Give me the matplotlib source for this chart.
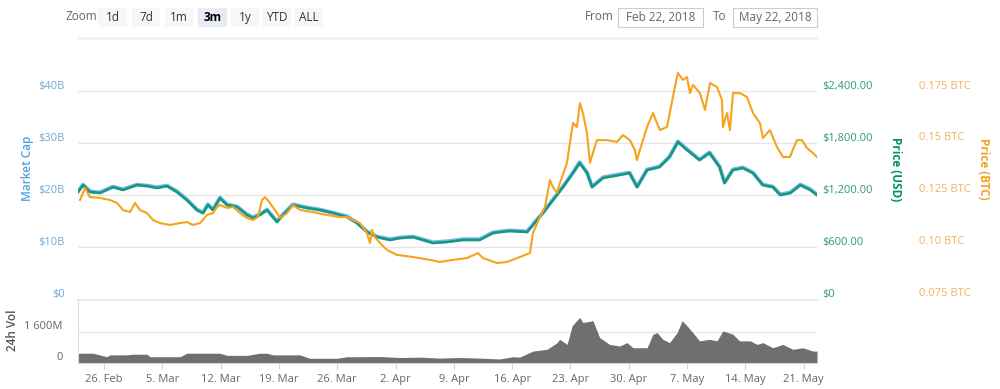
import matplotlib
matplotlib.use("Agg")
import matplotlib.pyplot as plt
import matplotlib.dates as mdates
from matplotlib.patches import FancyBboxPatch, Rectangle
from matplotlib.lines import Line2D
import pandas as pd

plt.rcParams['font.family'] = ['Open Sans', 'DejaVu Sans']

# ---------------- data ----------------
START = "2018-02-22"
# days after 2018-02-22 00:00
usd_day = [0.88, 1.48, 2.32, 3.52, 5.08, 6.28, 7.96, 9.16, 10.36, 11.56, 12.76, 13.96,
           15.16, 15.88, 16.48, 17.08, 17.93, 18.77, 19.97, 21.17, 21.89, 22.73, 23.57,
           24.77, 25.49, 26.69, 28.37, 29.93, 31.49, 33.17, 34.37, 35.57, 36.77, 38.33,
           39.53, 41.09, 43.5, 45.2, 47.1, 49.1, 50.7, 52.7, 54.8, 56.0, 56.7, 57.9,
           59.1, 60.3, 61.1, 62.0, 62.6, 63.9, 65.9, 67.1, 68.0, 69.2, 70.7, 71.9, 72.9,
           74.0, 75.5, 76.7, 77.9, 78.5, 79.5, 80.7, 81.9, 83.1, 84.3, 85.2, 86.4, 87.6,
           88.8, 89.6]
price_usd = [1235, 1315, 1235, 1223, 1292, 1258, 1315, 1304, 1281, 1304, 1235, 1142,
             1027, 992, 1085, 1027, 1165, 1085, 1062, 969, 935, 969, 1027,
             888, 969, 1085, 1050, 1027, 992, 946, 877, 773, 715, 681,
             704, 715, 646, 658, 681, 681, 762, 785, 773, 912, 992, 1142,
             1292, 1454, 1569, 1454, 1292, 1396, 1431, 1454, 1292, 1488, 1523, 1638, 1811,
             1719, 1604, 1685, 1523, 1338, 1488, 1512, 1454, 1315, 1292, 1200, 1223, 1315,
             1258, 1200]
market_cap_b = [20.7, 22.0, 20.7, 20.5, 21.6, 21.1, 22.0, 21.8, 21.5, 21.8, 20.7, 19.1,
                17.2, 16.6, 18.2, 17.2, 19.5, 18.2, 17.8, 16.3, 15.7, 16.3, 17.2,
                14.9, 16.3, 18.2, 17.6, 17.2, 16.6, 15.9, 14.7, 13.0, 12.0, 11.5,
                11.8, 12.0, 10.9, 11.1, 11.5, 11.5, 12.8, 13.2, 13.0, 15.3, 16.6, 19.1,
                21.6, 24.3, 26.3, 24.3, 21.6, 23.4, 24.0, 24.3, 21.6, 24.9, 25.5, 27.4, 30.3,
                28.8, 26.8, 28.2, 25.5, 22.4, 24.9, 25.3, 24.3, 22.0, 21.6, 20.1, 20.5, 22.0,
                21.1, 20.1]

btc_day = [1.12, 1.72, 2.32, 3.52, 4.72, 5.56, 6.28, 7.12, 7.72, 8.32, 9.16, 9.88, 10.72,
           11.92, 13.12, 13.96, 14.68, 15.52, 15.88, 16.36, 17.08, 17.56, 17.93, 18.77,
           19.49, 20.33, 21.17, 21.89, 22.49, 22.97, 23.33, 23.93, 24.77, 25.13, 25.97,
           26.69, 27.53, 29.09, 30.77, 32.33, 33.17, 33.89, 34.73, 35.57, 35.93, 36.17,
           36.53, 37.13, 37.97, 39.17, 41.09, 43.13, 44.33, 45.90, 47.58, 48.90, 49.50,
           51.18, 52.38, 53.94, 55.14, 55.50, 56.34, 56.94, 57.54, 57.90, 58.38, 58.74,
           59.58, 60.30, 60.78, 61.14, 61.50, 61.98, 62.34, 62.70, 63.18, 64.38, 65.58,
           66.30, 67.14, 67.74, 67.98, 68.34, 69.19, 69.91, 70.39, 70.75, 71.59, 72.30,
           72.90, 73.50, 73.99, 74.35, 74.71, 75.55, 76.15, 76.75, 77.59, 78.19, 78.31,
           78.79, 79.15, 79.51, 80.35, 81.19, 81.91, 82.75, 83.11, 83.95, 84.79, 85.51,
           86.35, 87.19, 87.79, 88.39, 89.11, 89.59]
price_btc = [0.1226, 0.1284, 0.1240, 0.1236, 0.1226, 0.1212, 0.1178, 0.1168, 0.1212, 0.1178,
             0.1163, 0.1130, 0.1115, 0.1106, 0.1115, 0.1120, 0.1106, 0.1115, 0.1130, 0.1154,
             0.1163, 0.1192, 0.1202, 0.1188, 0.1192, 0.1163, 0.1139, 0.1130, 0.1144, 0.1226,
             0.1240, 0.1212, 0.1163, 0.1139, 0.1163, 0.1202, 0.1178, 0.1168, 0.1154, 0.1144,
             0.1144, 0.1130, 0.1115, 0.1067, 0.1019, 0.1082, 0.1048, 0.1019, 0.0986, 0.0962,
             0.0952, 0.0938, 0.0928, 0.0938, 0.0947, 0.0971, 0.0947, 0.0923, 0.0928, 0.0952,
             0.0971, 0.1067, 0.1144, 0.1192, 0.1322, 0.1288, 0.1260, 0.1308, 0.1404, 0.1596,
             0.1577, 0.1692, 0.1644, 0.1548, 0.1404, 0.1452, 0.1514, 0.1514, 0.1505, 0.1538,
             0.1514, 0.1466, 0.1418, 0.1466, 0.1577, 0.1644, 0.1596, 0.1562, 0.1577, 0.1721,
             0.1837, 0.1803, 0.1817, 0.1740, 0.1779, 0.1740, 0.1659, 0.1788, 0.1769, 0.1707,
             0.1577, 0.1644, 0.1562, 0.1740, 0.1740, 0.1721, 0.1644, 0.1596, 0.1524, 0.1562,
             0.1481, 0.1433, 0.1433, 0.1514, 0.1514, 0.1476, 0.1452, 0.1433]

vol_day = [0.88, 1.12, 2.68, 4.36, 4.72, 6.76, 7.48, 9.16, 9.52, 13.12, 13.96, 16.36, 17.93,
           18.77, 21.17, 22.73, 23.57, 24.29, 27.53, 28.73, 31.97, 33.17, 34.73, 37.1, 39.5,
           41.9, 44.3, 46.7, 49.1, 51.5, 53.1, 53.9, 55.5, 57.2, 58.4, 58.7, 59.6, 60.2,
           61.1, 61.5, 62.7, 63.5, 64.7, 65.9, 66.8, 67.5, 69.2, 69.9, 70.4, 71.1, 71.9,
           72.8, 73.4, 74.0, 74.7, 75.5, 76.7, 77.6, 78.3, 79.5, 80.3, 81.6, 82.4, 83.1,
           84.3, 85.5, 86.7, 87.9, 89.1, 89.6]
volume_m = [500, 500, 500, 320, 415, 415, 450, 450, 320, 320, 500, 500, 500,
            390, 390, 500, 500, 415, 415, 240, 240, 320, 320, 330, 280,
            300, 250, 280, 250, 205, 320, 300, 610, 700, 1040, 1210, 950, 1900,
            2330, 2070, 2160, 1300, 950, 870, 1040, 780, 780, 1470, 1550, 1210, 1040,
            1550, 2160, 1900, 1550, 1130, 1210, 1130, 1640, 1470, 1130, 1130, 950, 1040,
            780, 950, 700, 780, 610, 610]

x_tick_dates = ["2018-02-26", "2018-03-05", "2018-03-12", "2018-03-19", "2018-03-26",
                "2018-04-02", "2018-04-09", "2018-04-16", "2018-04-23", "2018-04-30",
                "2018-05-07", "2018-05-14", "2018-05-21"]
x_tick_labels = ["26. Feb", "5. Mar", "12. Mar", "19. Mar", "26. Mar", "2. Apr", "9. Apr",
                 "16. Apr", "23. Apr", "30. Apr", "7. May", "14. May", "21. May"]
cap_ticks = [0, 10, 20, 30, 40]
cap_labels = ["$0", "$10B", "$20B", "$30B", "$40B"]
usd_ticks = [0, 600, 1200, 1800, 2400]
usd_labels = ["$0", "$600.00", "$1,200.00", "$1,800.00", "$2,400.00"]
btc_ticks = [0.075, 0.10, 0.125, 0.15, 0.175]
btc_labels = ["0.075 BTC", "0.10 BTC", "0.125 BTC", "0.15 BTC", "0.175 BTC"]
vol_ticks = [0, 1600]
vol_labels = ["0", "1 600M"]
zoom_buttons = ["1d", "7d", "1m", "3m", "1y", "YTD", "ALL"]
selected_button = "3m"
date_from = "Feb 22, 2018"
date_to = "May 22, 2018"

# ---------------- styling ----------------
C_CAP = "#7cb5ec"
C_CAP_LBL = "#6fa9d6"
C_USD = "#119b7c"
C_USD_LBL = "#2f9880"
C_BTC = "#f7a21b"
C_BTC_LBL = "#f0b35a"
C_GRID = "#e6e6e6"
C_VOL = "#6f6f6f"

W, H = 1000, 389
fig = plt.figure(figsize=(W / 100, H / 100), dpi=100)
fig.patch.set_facecolor("white")


def fx(px):
    return px / W


def fy(py):
    return 1 - py / H


L, R = 78, 817
MT, MB = 65, 299
VT, VB = 300, 363

start = pd.Timestamp(START)
def to_dates(days):
    return start + pd.to_timedelta(days, unit="D")

xlo = start + pd.Timedelta(days=0.88)
xhi = start + pd.Timedelta(days=89.6)

ax = fig.add_axes([fx(L), fy(MB), fx(R - L), (MB - MT) / H])
ax2 = ax.twinx()
ax3 = ax.twinx()
axv = fig.add_axes([fx(L), fy(VB), fx(R - L), (VB - VT) / H])

for a in (ax, ax2, ax3):
    a.set_xlim(xlo, xhi)
    for s in a.spines.values():
        s.set_visible(False)
    a.set_xticks([])
    a.set_yticks([])
    a.patch.set_visible(False)

ax.set_ylim(0, 45)
ax2.set_ylim(0, 2700)
ax3.set_ylim(0.075, 0.1875)

for v in cap_ticks[1:]:
    ax.axhline(v, color=C_GRID, lw=1, zorder=0)

# lines
ax.plot(to_dates(usd_day), market_cap_b, color=C_CAP, lw=2.8, zorder=2)
ax2.plot(to_dates(usd_day), price_usd, color=C_USD, lw=1.8, zorder=3)
ax3.plot(to_dates(btc_day), price_btc, color=C_BTC, lw=1.5, zorder=4)
ax3.set_zorder(ax2.get_zorder() + 1)

fs = 8
for v, t in zip(cap_ticks, cap_labels):
    ax.annotate(t, xy=(0, v), xycoords=("axes fraction", "data"), xytext=(-13, 5),
                textcoords="offset pixels", ha="right", va="center", fontsize=fs,
                color=C_CAP_LBL, annotation_clip=False)
for v, t in zip(usd_ticks, usd_labels):
    ax2.annotate(t, xy=(1, v), xycoords=("axes fraction", "data"), xytext=(5, 5),
                 textcoords="offset pixels", ha="left", va="center", fontsize=fs,
                 color=C_USD_LBL, annotation_clip=False)
for v, t in zip(btc_ticks, btc_labels):
    ax3.annotate(t, xy=(1, v), xycoords=("axes fraction", "data"), xytext=(102, 5),
                 textcoords="offset pixels", ha="left", va="center", fontsize=fs,
                 color=C_BTC_LBL, annotation_clip=False)

fig.text(fx(27), fy(168), "Market Cap", rotation=90, ha="center", va="center",
         fontsize=8.5, color="#4fa3dc", fontweight="semibold")
fig.text(fx(895), fy(169), "Price (USD)", rotation=270, ha="center", va="center",
         fontsize=8.5, color="#00916e", fontweight="bold")
fig.text(fx(983), fy(169), "Price (BTC)", rotation=270, ha="center", va="center",
         fontsize=8.5, color="#f5a31f", fontweight="bold")

# ---------------- volume panel ----------------
axv.set_xlim(xlo, xhi)
axv.set_ylim(0, 3220)
axv.fill_between(to_dates(vol_day), volume_m, 0, color=C_VOL, lw=0, zorder=2)
axv.axhline(1600, color=C_GRID, lw=1, zorder=0)
axv.axhline(3220, color=C_GRID, lw=1.2, zorder=0, clip_on=False)
for s in ("top", "right"):
    axv.spines[s].set_visible(False)
axv.spines["left"].set_color("#dcdcdc")
axv.spines["bottom"].set_color("#ccd6eb")
axv.set_yticks([])
axv.set_xticks(pd.to_datetime(x_tick_dates))
axv.set_xticklabels(x_tick_labels)
axv.tick_params(axis="x", length=4, color="#ccd6eb", labelsize=fs, labelcolor="#666666",
                pad=4)
for v, t in zip(vol_ticks, vol_labels):
    axv.annotate(t, xy=(0, v), xycoords=("axes fraction", "data"), xytext=(-15, 5),
                 textcoords="offset pixels", ha="right", va="center", fontsize=fs,
                 color="#666666", annotation_clip=False)
fig.text(fx(12), fy(330), "24h Vol", rotation=90, ha="center", va="center",
         fontsize=8.5, color="#555555", fontweight="semibold")

# ---------------- range selector ----------------
fig.text(fx(65), fy(17), "Zoom", ha="left", va="center", fontsize=8.5, color="#666666")
btn_x = [98, 132, 165, 198, 231, 263, 295]
btn_w = [29, 28, 28, 29, 28, 28, 28]
for bx, bw, lbl in zip(btn_x, btn_w, zoom_buttons):
    sel = (lbl == selected_button)
    fig.add_artist(FancyBboxPatch((fx(bx), fy(27)), fx(bw), 19 / H,
                                  boxstyle="round,pad=0,rounding_size=0.002",
                                  transform=fig.transFigure,
                                  facecolor="#e6ebf5" if sel else "#f7f7f7",
                                  edgecolor="none"))
    fig.text(fx(bx + bw / 2), fy(17.5), lbl, ha="center", va="center", fontsize=8.5,
             color="#000000" if sel else "#333333",
             fontweight="bold" if sel else "normal")

fig.text(fx(585), fy(17), "From", ha="left", va="center", fontsize=8.5, color="#666666")
fig.text(fx(713), fy(17), "To", ha="left", va="center", fontsize=8.5, color="#666666")
for bx, bw, t in ((618, 85, date_from), (733, 84, date_to)):
    fig.add_artist(Rectangle((fx(bx), fy(27)), fx(bw), 19 / H, transform=fig.transFigure,
                             facecolor="white", edgecolor="#cccccc", lw=0.8))
    fig.text(fx(bx + bw / 2), fy(17.5), t, ha="center", va="center", fontsize=8.5,
             color="#666666")

fig.add_artist(Line2D([fx(L), fx(R)], [fy(38), fy(38)], transform=fig.transFigure,
                      color="#f0f0f0", lw=2))

fig.savefig("out.png", dpi=100, facecolor="white")
